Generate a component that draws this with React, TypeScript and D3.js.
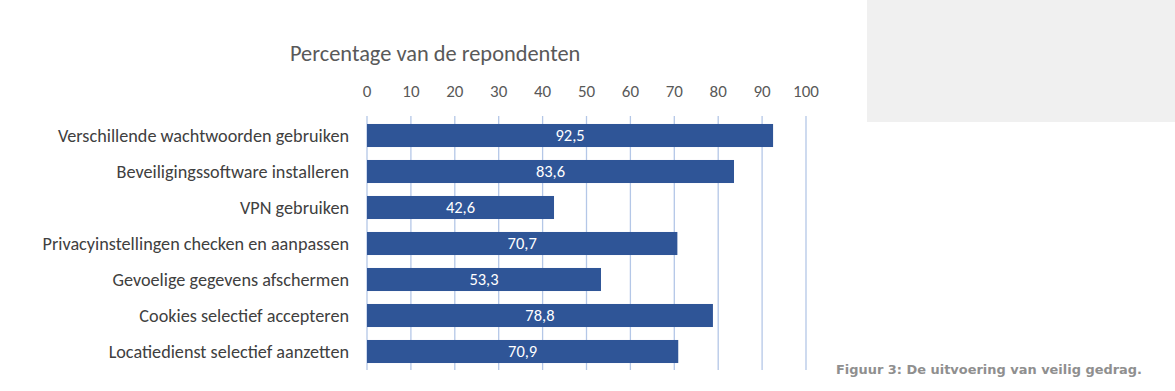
import React from "react";
import * as d3 from "d3";

const categories = [
  "Verschillende wachtwoorden gebruiken",
  "Beveiligingssoftware installeren",
  "VPN gebruiken",
  "Privacyinstellingen checken en aanpassen",
  "Gevoelige gegevens afschermen",
  "Cookies selectief accepteren",
  "Locatiedienst selectief aanzetten",
];
const values = [92.5, 83.6, 42.6, 70.7, 53.3, 78.8, 70.9];
const ticks = [0, 10, 20, 30, 40, 50, 60, 70, 80, 90, 100];

const W = 1175;
const H = 391;
const font = "Carlito, Lato, sans-serif";

export default function App() {
  const x = d3.scaleLinear().domain([0, 100]).range([367, 806]);
  const y = d3
    .scaleBand<string>()
    .domain(categories)
    .range([117.5, 369.5])
    .paddingInner(0.36)
    .paddingOuter(0.18);
  const fmt = (v: number) => v.toFixed(1).replace(".", ",");

  return (
    <svg
      width={W}
      height={H}
      style={{ position: "absolute", left: 0, top: 0, background: "#fff" }}
    >
      <rect x={867} y={0} width={W - 867} height={122} fill="#f0f0f0" />
      <text x={290} y={61} fontFamily={font} fontSize={22.4} fill="#595959">
        Percentage van de repondenten
      </text>
      {ticks.map((t) => (
        <g key={t}>
          <line
            x1={x(t)}
            x2={x(t)}
            y1={116}
            y2={370}
            stroke="#b4c7e7"
            strokeWidth={1.3}
          />
          <text
            x={x(t)}
            y={97}
            textAnchor="middle"
            fontFamily={font}
            fontSize={17}
            fill="#595959"
          >
            {t}
          </text>
        </g>
      ))}
      {categories.map((c, i) => {
        const yy = y(c)!;
        const bh = y.bandwidth();
        return (
          <g key={c}>
            <rect
              x={x(0)}
              y={yy}
              width={x(values[i]) - x(0)}
              height={bh}
              fill="#2f5597"
            />
            <text
              x={(x(0) + x(values[i])) / 2}
              y={yy + bh / 2}
              dy="0.35em"
              textAnchor="middle"
              fontFamily={font}
              fontSize={16.5}
              fill="#ffffff"
            >
              {fmt(values[i])}
            </text>
            <text
              x={349}
              y={yy + bh / 2}
              dy="0.35em"
              textAnchor="end"
              fontFamily={font}
              fontSize={18.2}
              fill="#404040"
            >
              {c}
            </text>
          </g>
        );
      })}
      <text
        x={836}
        y={374}
        fontFamily="'DejaVu Sans', sans-serif"
        fontWeight="bold"
        fontSize={12.5}
        fill="#8f8f8f"
        textLength={306}
        lengthAdjust="spacingAndGlyphs"
      >
        Figuur 3: De uitvoering van veilig gedrag.
      </text>
    </svg>
  );
}
